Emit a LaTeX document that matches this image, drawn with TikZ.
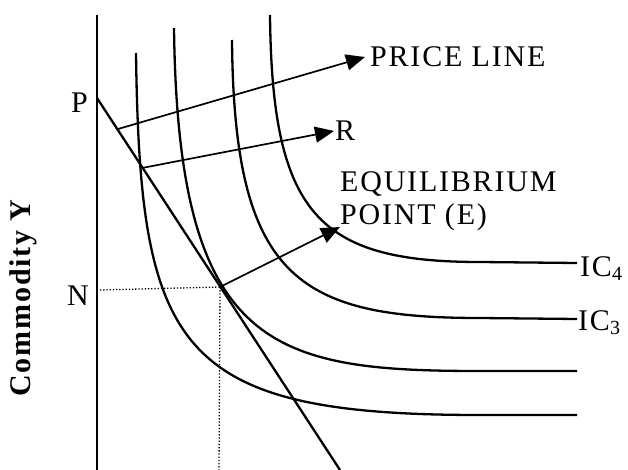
\documentclass[tikz,border=0pt]{standalone}
\usepackage{fontspec}
\setmainfont{Liberation Serif}
\newfontfamily\spaced[LetterSpace=6]{Liberation Serif}
\usetikzlibrary{arrows.meta}
\begin{document}
\begin{tikzpicture}[x=1pt,y=-1pt,
  curve/.style={line width=2.3pt,line join=round},
  axisline/.style={line width=2.3pt},
  ptr/.style={line width=1.7pt,-{Triangle[length=19pt,width=16pt]}},
  guide/.style={line width=1.3pt,dash pattern=on 1.3pt off 1.9pt},
  lbl/.style={inner sep=0pt,anchor=base west,font=\fontsize{30}{34}\spaced}]
\useasboundingbox (0,0) rectangle (628,470);

% key points
\coordinate (Top) at (97,15);
\coordinate (O) at (97,470);
\coordinate (P) at (97,98);
\coordinate (Lend) at (340,470);
\coordinate (E) at (220,287);
\coordinate (A) at (118,129);
\coordinate (B) at (142,168);
\coordinate (Nl) at (100,290);
\coordinate (Eb) at (219,470);
\coordinate (plTip) at (365,57);
\coordinate (rTip) at (334,131);
\coordinate (eTip) at (340,227);

% axis and price line
\draw[axisline] (Top) -- (O);
\draw[axisline] (P) -- (Lend);

% dotted guides
\draw[guide] (Nl) -- (E);
\draw[guide] (E) -- (Eb);

% indifference curves
\draw[curve] (136,53) .. controls (140,349) and (175,415) .. (480,415) -- (577,415);
\draw[curve] (174,28) .. controls (178,349) and (271,371) .. (480,371) -- (577,371);
\draw[curve] (232,40) .. controls (234,277) and (297,318) .. (480,318) -- (577,319);
\draw[curve] (270,15) .. controls (272,214) and (318,262) .. (480,262) -- (577,263);

% arrows
\draw[ptr] (A) -- (plTip);
\draw[ptr] (B) -- (rTip);
\draw[ptr] (E) -- (eTip);

% labels
\node[lbl] (pl) at (370,67) {PRICE LINE};
\node[lbl] (r) at (335,141) {R};
\node[lbl] (eq1) at (340,192) {EQUILIBRIUM};
\node[lbl] (eq2) at (340,225) {POINT (E)};
\node[lbl] (p) at (71,113) {P};
\node[lbl] (n) at (67,305) {N};
\node[lbl] (ic4) at (580,276) {IC\raisebox{-4pt}{\fontsize{20}{20}\selectfont 4}};
\node[lbl] (ic3) at (578,330) {IC\raisebox{-4pt}{\fontsize{20}{20}\selectfont 3}};
\node[inner sep=0pt,rotate=90,font=\fontsize{30}{34}\spaced\bfseries] (cy) at (23,298) {Commodity Y};
\end{tikzpicture}
\end{document}
